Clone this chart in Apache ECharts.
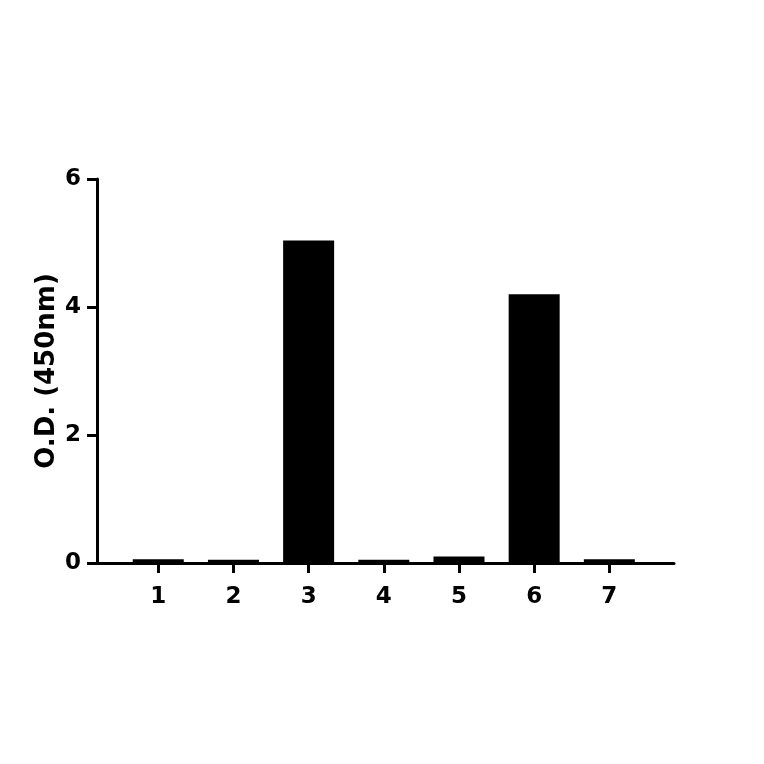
<!DOCTYPE html>
<html>
<head>
<meta charset="utf-8">
<script src="https://cdn.jsdelivr.net/npm/echarts@6/dist/echarts.min.js"></script>
<style>
	html, body { margin: 0; padding: 0; background: #fff; }
	#main { width: 764px; height: 764px; }
</style>
</head>
<body>
<div id="main"></div>
<script>
	// 样品编号 和 OD值
	var samples = [1, 2, 3, 4, 5, 6, 7];
	var odValues = [0.06, 0.05, 5.04, 0.05, 0.1, 4.2, 0.06];
	var yTicks = [0, 2, 4, 6];

	var barData = [];
	for (var i in samples) {
		barData.push([samples[i], odValues[i]]);
	}

	var font = 'DejaVu Sans';
	var myChart = echarts.init(document.getElementById('main'));
	myChart.setOption({
		backgroundColor: '#FFF',
		animation: false,
		grid: {
			left: 97,
			right: 90,
			top: 179,
			bottom: 201
		},
		xAxis: {
			type: 'value',
			min: 0.185,
			max: 7.86,
			splitLine: { show: false },
			axisLine: {
				show: true,
				onZero: false,
				lineStyle: { color: '#000', width: 3 }
			},
			axisTick: {
				show: true,
				length: 10,
				customValues: samples,
				lineStyle: { color: '#000', width: 3 }
			},
			axisLabel: {
				customValues: samples,
				margin: 23,
				color: '#000',
				fontFamily: font,
				fontWeight: 'bold',
				fontSize: 23
			}
		},
		yAxis: {
			type: 'value',
			min: 0,
			max: 6,
			interval: 2,
			name: 'O.D. (450nm)',
			nameLocation: 'middle',
			nameGap: 37,
			nameMoveOverlap: false,
			nameTextStyle: {
				color: '#000',
				fontFamily: font,
				fontWeight: 'bold',
				fontSize: 26
			},
			splitLine: { show: false },
			axisLine: {
				show: true,
				lineStyle: { color: '#000', width: 3 }
			},
			axisTick: {
				show: true,
				length: 10,
				lineStyle: { color: '#000', width: 3 }
			},
			axisLabel: {
				margin: 16,
				color: '#000',
				fontFamily: font,
				fontWeight: 'bold',
				fontSize: 23
			}
		},
		series: [{
			type: 'bar',
			barWidth: 51,
			itemStyle: { color: '#000' },
			data: barData
		}]
	});
</script>
</body>
</html>
